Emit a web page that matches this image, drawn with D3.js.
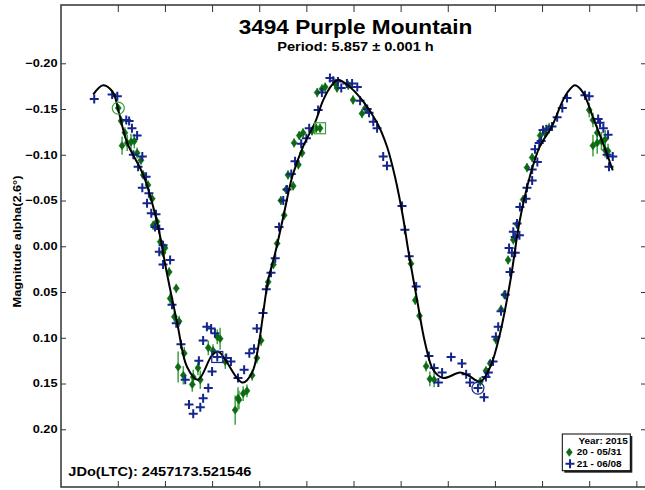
<!DOCTYPE html>
<html>
<head>
<meta charset="utf-8">
<script src="https://cdn.jsdelivr.net/npm/d3@7"></script>
<style>
  body { margin: 0; background: #fff; }
  svg { display: block; }
</style>
</head>
<body>
<div id="chart"></div>
<script>
// chart text
var titleText = "3494 Purple Mountain",
    periodText = "Period: 5.857 \u00b1 0.001 h",
    yLabelText = "Magnitude alpha(2.6\u00b0)",
    jdText = "JDo(LTC): 2457173.521546",
    legendYear = "Year: 2015",
    legendNames = ["20 - 05/31", "21 - 06/08"];

// ticks
var phaseTicks = [0, 0.1, 0.2, 0.3, 0.4, 0.5, 0.6, 0.7, 0.8, 0.9, 1.0, 1.1];
var magTicks = [-0.20, -0.15, -0.10, -0.05, 0.00, 0.05, 0.10, 0.15, 0.20];

// fitted curve [phase, mag]
var fitCurve = [
    [-0.052,-0.166],[-0.031,-0.176],[-0.010,-0.168],[0.001,-0.149],[0.020,-0.113],[0.054,-0.078],
    [0.083,-0.027],[0.104,0.029],[0.126,0.084],[0.147,0.132],[0.170,0.146],[0.200,0.119],
    [0.213,0.115],[0.228,0.124],[0.253,0.144],[0.266,0.149],[0.285,0.138],[0.298,0.110],
    [0.319,0.037],[0.334,0.007],[0.351,-0.032],[0.370,-0.076],[0.393,-0.109],[0.419,-0.136],
    [0.436,-0.160],[0.454,-0.176],[0.467,-0.182],[0.488,-0.176],[0.518,-0.160],[0.550,-0.135],
    [0.571,-0.109],[0.588,-0.076],[0.605,-0.032],[0.616,0.004],[0.635,0.059],[0.652,0.106],
    [0.669,0.135],[0.690,0.144],[0.726,0.138],[0.743,0.141],[0.769,0.148],[0.790,0.132],
    [0.811,0.095],[0.832,0.040],[0.853,-0.029],[0.874,-0.076],[0.895,-0.109],[0.921,-0.131],
    [0.942,-0.157],[0.955,-0.169],[0.970,-0.176],[0.987,-0.168],[1.008,-0.141],[1.029,-0.113],
    [1.050,-0.083]
];

// session 20 (05/31): [phase, mag, error]
var session20 = [
    [0.001,-0.151,0.004],[0.007,-0.137,0.005],[0.015,-0.124,0.006],[0.009,-0.110,0.010],
    [0.020,-0.113,0.009],[0.028,-0.114,0.009],[0.035,-0.115,0.008],[0.041,-0.102,0.006],
    [0.049,-0.094,0.005],[0.054,-0.078,0.005],[0.064,-0.067,0.005],[0.073,-0.052,0.005],
    [0.075,-0.023,0.005],[0.083,-0.027,0.005],[0.090,-0.005,0.005],[0.100,0.002,0.005],
    [0.096,0.007,0.005],[0.109,0.028,0.005],[0.124,0.046,0.005],[0.111,0.057,0.006],
    [0.120,0.077,0.006],[0.130,0.082,0.006],[0.141,0.117,0.007],[0.128,0.132,0.017],
    [0.139,0.141,0.010],[0.160,0.143,0.008],[0.158,0.151,0.008],[0.170,0.133,0.008],
    [0.175,0.146,0.010],[0.192,0.111,0.008],[0.211,0.099,0.008],[0.217,0.101,0.012],
    [0.202,0.114,0.007],[0.228,0.126,0.008],[0.249,0.179,0.016],[0.255,0.166,0.012],
    [0.257,0.168,0.010],[0.266,0.161,0.008],[0.274,0.158,0.007],[0.285,0.141,0.006],
    [0.295,0.122,0.006],[0.304,0.103,0.006],[0.319,0.039,0.006],[0.330,0.020,0.005],
    [0.338,-0.003,0.005],[0.353,-0.034,0.005],[0.346,-0.050,0.005],[0.357,-0.062,0.005],
    [0.372,-0.066,0.005],[0.361,-0.078,0.005],[0.383,-0.089,0.005],[0.391,-0.102,0.005],
    [0.374,-0.113,0.005],[0.385,-0.121,0.005],[0.393,-0.124,0.005],[0.412,-0.126,0.005],
    [0.421,-0.129,0.005],[0.429,-0.129,0.005],[0.423,-0.168,0.005],[0.433,-0.172,0.005],
    [0.440,-0.174,0.005],[0.461,-0.178,0.005],[0.465,-0.173,0.005],[0.489,-0.176,0.005],
    [0.499,-0.160,0.005],[0.518,-0.145,0.005],[0.525,-0.151,0.006],[0.622,0.019,0.005],
    [0.631,0.059,0.005],[0.640,0.076,0.005],[0.654,0.131,0.006],[0.662,0.145,0.008],
    [0.671,0.146,0.008],[0.769,0.148,0.005],[0.781,0.136,0.005],[0.790,0.128,0.005],
    [0.802,0.102,0.005],[0.813,0.069,0.005],[0.820,0.053,0.005],[0.828,0.015,0.005],
    [0.839,-0.007,0.005],[0.847,-0.024,0.005],[0.860,-0.051,0.005],[0.868,-0.086,0.005],
    [0.879,-0.097,0.005],[0.896,-0.121,0.006],[0.906,-0.124,0.006],[0.915,-0.129,0.006],
    [1.000,-0.149,0.008],[1.008,-0.138,0.008],[1.008,-0.110,0.012],[1.017,-0.113,0.012],
    [1.026,-0.115,0.010],[1.034,-0.117,0.010],[1.017,-0.124,0.008],[1.034,-0.105,0.008],
    [1.040,-0.104,0.008]
];

// session 21 (06/08): [phase, mag]
var session21 = [
    [-0.050,-0.161],[-0.012,-0.166],[-0.001,-0.164],[0.018,-0.138],[0.024,-0.137],[0.030,-0.129],
    [0.041,-0.121],[0.033,-0.100],[0.052,-0.098],[0.043,-0.087],[0.060,-0.076],[0.052,-0.064],
    [0.066,-0.058],[0.062,-0.047],[0.071,-0.036],[0.081,-0.035],[0.079,-0.021],[0.088,-0.019],
    [0.096,-0.001],[0.088,0.006],[0.111,0.015],[0.096,0.020],[0.115,0.064],[0.124,0.084],
    [0.134,0.107],[0.143,0.146],[0.172,0.125],[0.181,0.103],[0.189,0.088],[0.198,0.090],
    [0.206,0.095],[0.200,0.137],[0.192,0.155],[0.181,0.166],[0.175,0.176],[0.151,0.173],
    [0.160,0.183],[0.211,0.121],[0.230,0.122],[0.240,0.126],[0.255,0.144],[0.268,0.135],
    [0.279,0.117],[0.289,0.112],[0.295,0.090],[0.308,0.073],[0.315,0.047],[0.325,0.029],
    [0.334,0.013],[0.342,-0.021],[0.351,-0.050],[0.359,-0.062],[0.368,-0.079],[0.376,-0.093],
    [0.389,-0.112],[0.400,-0.118],[0.406,-0.129],[0.425,-0.149],[0.433,-0.168],[0.450,-0.184],
    [0.457,-0.181],[0.467,-0.180],[0.474,-0.173],[0.486,-0.178],[0.497,-0.178],[0.508,-0.174],
    [0.514,-0.159],[0.529,-0.150],[0.533,-0.146],[0.542,-0.136],[0.550,-0.129],[0.563,-0.098],
    [0.571,-0.088],[0.603,-0.044],[0.609,-0.018],[0.618,0.011],[0.633,0.044],[0.660,0.120],
    [0.707,0.121],[0.730,0.128],[0.671,0.133],[0.688,0.138],[0.739,0.140],[0.747,0.149],
    [0.680,0.149],[0.764,0.155],[0.777,0.165],[0.781,0.143],[0.786,0.138],[0.796,0.126],
    [0.802,0.099],[0.807,0.088],[0.813,0.071],[0.822,0.053],[0.832,0.028],[0.836,0.007],
    [0.830,0.002],[0.843,0.007],[0.843,-0.010],[0.839,-0.016],[0.852,-0.012],[0.847,-0.025],
    [0.853,-0.043],[0.866,-0.052],[0.868,-0.064],[0.879,-0.072],[0.879,-0.084],[0.890,-0.092],
    [0.885,-0.106],[0.894,-0.113],[0.898,-0.115],[0.902,-0.127],[0.909,-0.128],[0.921,-0.131],
    [0.932,-0.141],[0.943,-0.151],[0.953,-0.162],[0.991,-0.165],[1.000,-0.164],[1.019,-0.139],
    [1.023,-0.135],[1.030,-0.129],[1.040,-0.122],[1.038,-0.100],[1.050,-0.098],[1.042,-0.087]
];

// highlighted points: [session, shape, phase, mag]
var markedPoints = [
    [20, "circle", 0.001, -0.151],
    [20, "square", 0.429, -0.129],
    [21, "square", 0.211, 0.121],
    [21, "circle", 0.764, 0.155]
];

var width = 645, height = 490;
var plotLeft = 61, plotRight = 646, plotTop = 5, plotBottom = 487;
var FONT = "'Liberation Sans', Arial, sans-serif";
var SX = 1.16; // the original font is a bit wider than Arial
var greenFill = "#0b6a12", greenBar = "#3fa040", blueCol = "#14268c";

var svg = d3.select("#chart").append("svg")
    .attr("width", width).attr("height", height);

var x = d3.scaleLinear().domain([-0.1205, 1.1205]).range([plotLeft, plotRight]);
var y = d3.scaleLinear().domain([-0.2637, 0.2631]).range([plotTop, plotBottom]);

function label(parent, px, py, s, size, anchor, rot) {
    return parent.append("text")
        .attr("transform", "translate(" + px + "," + py + ")" + (rot ? " rotate(" + rot + ")" : "") + " scale(" + SX + ",1)")
        .attr("text-anchor", anchor)
        .attr("font-family", FONT).attr("font-weight", "bold").attr("font-size", size)
        .attr("fill", "#000")
        .text(s);
}

// axes (ticks point inward, no labels from d3)
function styleAxis(g) {
    g.select(".domain").remove();
    g.selectAll(".tick line").attr("stroke", "#333").attr("stroke-width", 1);
}
svg.append("g").attr("transform", "translate(0," + plotTop + ")")
    .call(d3.axisTop(x).tickValues(phaseTicks).tickSizeInner(-7).tickSizeOuter(0).tickFormat(""))
    .call(styleAxis);
svg.append("g").attr("transform", "translate(0," + plotBottom + ")")
    .call(d3.axisBottom(x).tickValues(phaseTicks).tickSizeInner(-6).tickSizeOuter(0).tickFormat(""))
    .call(styleAxis);
svg.append("g").attr("transform", "translate(" + plotLeft + ",0)")
    .call(d3.axisLeft(y).tickValues(magTicks).tickSizeInner(-5).tickSizeOuter(0).tickFormat(""))
    .call(styleAxis);
svg.append("g").attr("transform", "translate(" + plotRight + ",0)")
    .call(d3.axisRight(y).tickValues(magTicks).tickSizeInner(-5).tickSizeOuter(0).tickFormat(""))
    .call(styleAxis);

// frame
svg.append("rect")
    .attr("x", plotLeft).attr("y", plotTop)
    .attr("width", plotRight - plotLeft).attr("height", plotBottom - plotTop)
    .attr("fill", "none").attr("stroke", "#333").attr("stroke-width", 1.5);

// y tick labels
var fmt = d3.format(".2f");
magTicks.forEach(function(m) {
    label(svg, plotLeft - 3.5, y(m) + 3.9, fmt(m), 11, "end");
});

// titles
label(svg, 355.5, 34, titleText, 19.5, "middle");
label(svg, 355.5, 50.5, periodText, 12.6, "middle");
label(svg, 20.5, 241.5, yLabelText, 11, "middle", -90);
label(svg, 68.3, 475.7, jdText, 12.6, "start");

// session 20 error bars and diamonds
var diamond = "M0,-4L3,0L0,4L-3,0Z";
var cross = "M-4.5,0H4.5M0,-4.5V4.5";

var g20 = svg.append("g");
g20.selectAll(".err").data(session20).enter().append("line")
    .attr("class", "err")
    .attr("x1", d => x(d[0])).attr("x2", d => x(d[0]))
    .attr("y1", d => y(d[1] - d[2])).attr("y2", d => y(d[1] + d[2]))
    .attr("stroke", greenBar).attr("stroke-width", 1.5);
g20.selectAll(".dia").data(session20).enter().append("path")
    .attr("class", "dia")
    .attr("transform", d => "translate(" + x(d[0]) + "," + y(d[1]) + ")")
    .attr("d", diamond)
    .attr("fill", greenFill).attr("stroke", greenFill).attr("stroke-width", 0.6);

// session 21 crosses
svg.append("g").selectAll(".plus").data(session21).enter().append("path")
    .attr("class", "plus")
    .attr("transform", d => "translate(" + x(d[0]) + "," + y(d[1]) + ")")
    .attr("d", cross)
    .attr("fill", "none").attr("stroke", blueCol).attr("stroke-width", 2);

// fitted curve
var line = d3.line().x(d => x(d[0])).y(d => y(d[1])).curve(d3.curveCatmullRom.alpha(0.5));
svg.append("path").datum(fitCurve)
    .attr("d", line)
    .attr("fill", "none").attr("stroke", "#000").attr("stroke-width", 2);

// highlighted points
markedPoints.forEach(function(d) {
    var col = d[0] === 20 ? greenBar : blueCol;
    var cx = x(d[2]), cy = y(d[3]);
    if (d[1] === "circle") {
        svg.append("circle").attr("cx", cx).attr("cy", cy).attr("r", 6)
            .attr("fill", "none").attr("stroke", col).attr("stroke-width", 1.2);
    } else {
        svg.append("rect").attr("x", cx - 5.5).attr("y", cy - 5.5).attr("width", 11).attr("height", 11)
            .attr("fill", "none").attr("stroke", col).attr("stroke-width", 1.2);
    }
});

// legend
var lg = svg.append("g");
lg.append("rect").attr("x", 564.3).attr("y", 436).attr("width", 68).attr("height", 36.7).attr("fill", "#222");
lg.append("rect").attr("x", 562.3).attr("y", 434).attr("width", 68).attr("height", 36.7)
    .attr("fill", "#fff").attr("stroke", "#000").attr("stroke-width", 1);
label(lg, 627.7, 444, legendYear, 8.6, "end");
lg.append("path").attr("transform", "translate(569.3,452.3)").attr("d", diamond)
    .attr("fill", greenFill).attr("stroke", greenFill).attr("stroke-width", 0.6);
lg.append("path").attr("transform", "translate(570,463.7)").attr("d", cross)
    .attr("fill", "none").attr("stroke", blueCol).attr("stroke-width", 2);
legendNames.forEach(function(n, i) {
    label(lg, 576.7, 455.3 + i * 11.4, n, 8.6, "start");
});
</script>
</body>
</html>
